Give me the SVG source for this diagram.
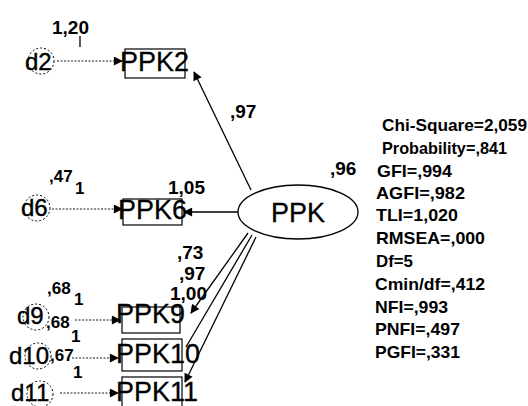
<svg xmlns="http://www.w3.org/2000/svg" width="528" height="406" viewBox="0 0 528 406">
<defs>
<marker id="ah" viewBox="0 0 10 10" refX="9" refY="5" markerWidth="10" markerHeight="9" markerUnits="userSpaceOnUse" orient="auto">
<path d="M0,0 L10,5 L0,10 z" fill="#000"/>
</marker>
</defs>
<style>
.bg{fill:#fff}
.err{fill:none;stroke:#000;stroke-width:1;stroke-dasharray:2 2}
.dlab{font-family:"Liberation Sans",Arial,sans-serif;font-size:24px;fill:#000;stroke:#000;stroke-width:0.4}
.obs{fill:none;stroke:#000;stroke-width:1.2}
.olab{font-family:"Liberation Sans",Arial,sans-serif;font-size:27px;fill:#000;stroke:#000;stroke-width:0.3}
.lat{fill:#fff;stroke:#000;stroke-width:1.3}
.num{font-family:"Liberation Sans",Arial,sans-serif;font-size:19px;font-weight:bold;fill:#000}
.sm{font-family:"Liberation Sans",Arial,sans-serif;font-size:17px;font-weight:bold;fill:#000}
.stat{font-family:"Liberation Sans",Arial,sans-serif;font-size:17px;font-weight:bold;fill:#000}
.dot{fill:none;stroke:#000;stroke-width:0.9;stroke-dasharray:2 1.5}
.sol{fill:none;stroke:#000;stroke-width:1.3}
</style>
<rect class="bg" x="0" y="0" width="528" height="406"/>

<g id="connectors">
<line class="dot" x1="57" y1="61" x2="122" y2="61" marker-end="url(#ah)"/>
<line class="dot" x1="52" y1="209" x2="122" y2="209" marker-end="url(#ah)"/>
<line class="dot" x1="75" y1="320" x2="120" y2="320" marker-end="url(#ah)"/>
<line class="dot" x1="72" y1="358" x2="118" y2="358" marker-end="url(#ah)"/>
<line class="dot" x1="60" y1="393" x2="118" y2="393" marker-end="url(#ah)"/>
<line class="sol" x1="251" y1="190" x2="194" y2="72" marker-end="url(#ah)"/>
<line class="sol" x1="238" y1="212" x2="184" y2="212" marker-end="url(#ah)"/>
<line class="sol" x1="248" y1="233" x2="191" y2="313" marker-end="url(#ah)"/>
<line class="sol" x1="252" y1="235" x2="186" y2="347"/>
<line class="sol" x1="256" y1="237" x2="185" y2="382" marker-end="url(#ah)"/>
<line class="sol" x1="80" y1="36" x2="80" y2="47"/>
</g>

<g id="d2">
<circle class="err" cx="41" cy="61" r="13"/>
<text class="dlab" x="25" y="70">d2</text>
<text class="num" x="52" y="34">1,20</text>
</g>
<g id="PPK2">
<rect class="obs" x="125" y="49" width="60" height="29"/>
<text class="olab" x="120" y="71">PPK2</text>
</g>
<g id="d6">
<circle class="err" cx="37" cy="208" r="13"/>
<text class="dlab" x="21" y="216">d6</text>
<text class="sm" x="49" y="182">,47</text>
<text class="sm" x="75" y="194">1</text>
</g>
<g id="PPK6">
<rect class="obs" x="123" y="199" width="59" height="26"/>
<text class="olab" x="118" y="219">PPK6</text>
<text class="num" x="168" y="194">1,05</text>
</g>
<g id="PPK">
<ellipse class="lat" cx="298" cy="212" rx="60" ry="27"/>
<text class="olab" x="298" y="222" text-anchor="middle" font-size="28">PPK</text>
<text class="num" x="330" y="175">,96</text>
<text class="num" x="230" y="118">,97</text>
</g>
<g id="d9">
<circle class="err" cx="36" cy="317" r="13"/>
<text class="dlab" x="17" y="324">d9</text>
<text class="sm" x="47" y="294">,68</text>
<text class="sm" x="74" y="305">1</text>
<text class="sm" x="46" y="328">,68</text>
<text class="sm" x="71" y="342">1</text>
</g>
<g id="PPK9">
<rect class="obs" x="122" y="307" width="58" height="26"/>
<text class="olab" x="116" y="323">PPK9</text>
<text class="num" x="177" y="259">,73</text>
<text class="num" x="179" y="280">,97</text>
<text class="num" x="170" y="300">1,00</text>
</g>
<g id="d10">
<circle class="err" cx="38" cy="356" r="13"/>
<text class="dlab" x="9" y="364">d10</text>
<text class="sm" x="50" y="361">,67</text>
<text class="sm" x="73" y="378">1</text>
</g>
<g id="PPK10">
<rect class="obs" x="122" y="339" width="60" height="32"/>
<text class="olab" x="116" y="363">PPK10</text>
</g>
<g id="d11">
<circle class="err" cx="40" cy="394" r="13"/>
<text class="dlab" x="11" y="401">d11</text>
</g>
<g id="PPK11">
<rect class="obs" x="122" y="377" width="60" height="32"/>
<text class="olab" x="116" y="401">PPK11</text>
</g>

<g id="fit">
<text class="stat" x="382" y="131" textLength="145" lengthAdjust="spacingAndGlyphs">Chi-Square=2,059</text>
<text class="stat" x="382" y="154" textLength="125" lengthAdjust="spacingAndGlyphs">Probability=,841</text>
<text class="stat" x="377" y="177" textLength="75" lengthAdjust="spacingAndGlyphs">GFI=,994</text>
<text class="stat" x="376" y="199" textLength="89" lengthAdjust="spacingAndGlyphs">AGFI=,982</text>
<text class="stat" x="376" y="221" textLength="82" lengthAdjust="spacingAndGlyphs">TLI=1,020</text>
<text class="stat" x="376" y="244" textLength="109" lengthAdjust="spacingAndGlyphs">RMSEA=,000</text>
<text class="stat" x="376" y="267" textLength="37" lengthAdjust="spacingAndGlyphs">Df=5</text>
<text class="stat" x="375" y="290" textLength="110" lengthAdjust="spacingAndGlyphs">Cmin/df=,412</text>
<text class="stat" x="375" y="313" textLength="73" lengthAdjust="spacingAndGlyphs">NFI=,993</text>
<text class="stat" x="375" y="335" textLength="85" lengthAdjust="spacingAndGlyphs">PNFI=,497</text>
<text class="stat" x="375" y="358" textLength="85" lengthAdjust="spacingAndGlyphs">PGFI=,331</text>
</g>
</svg>
